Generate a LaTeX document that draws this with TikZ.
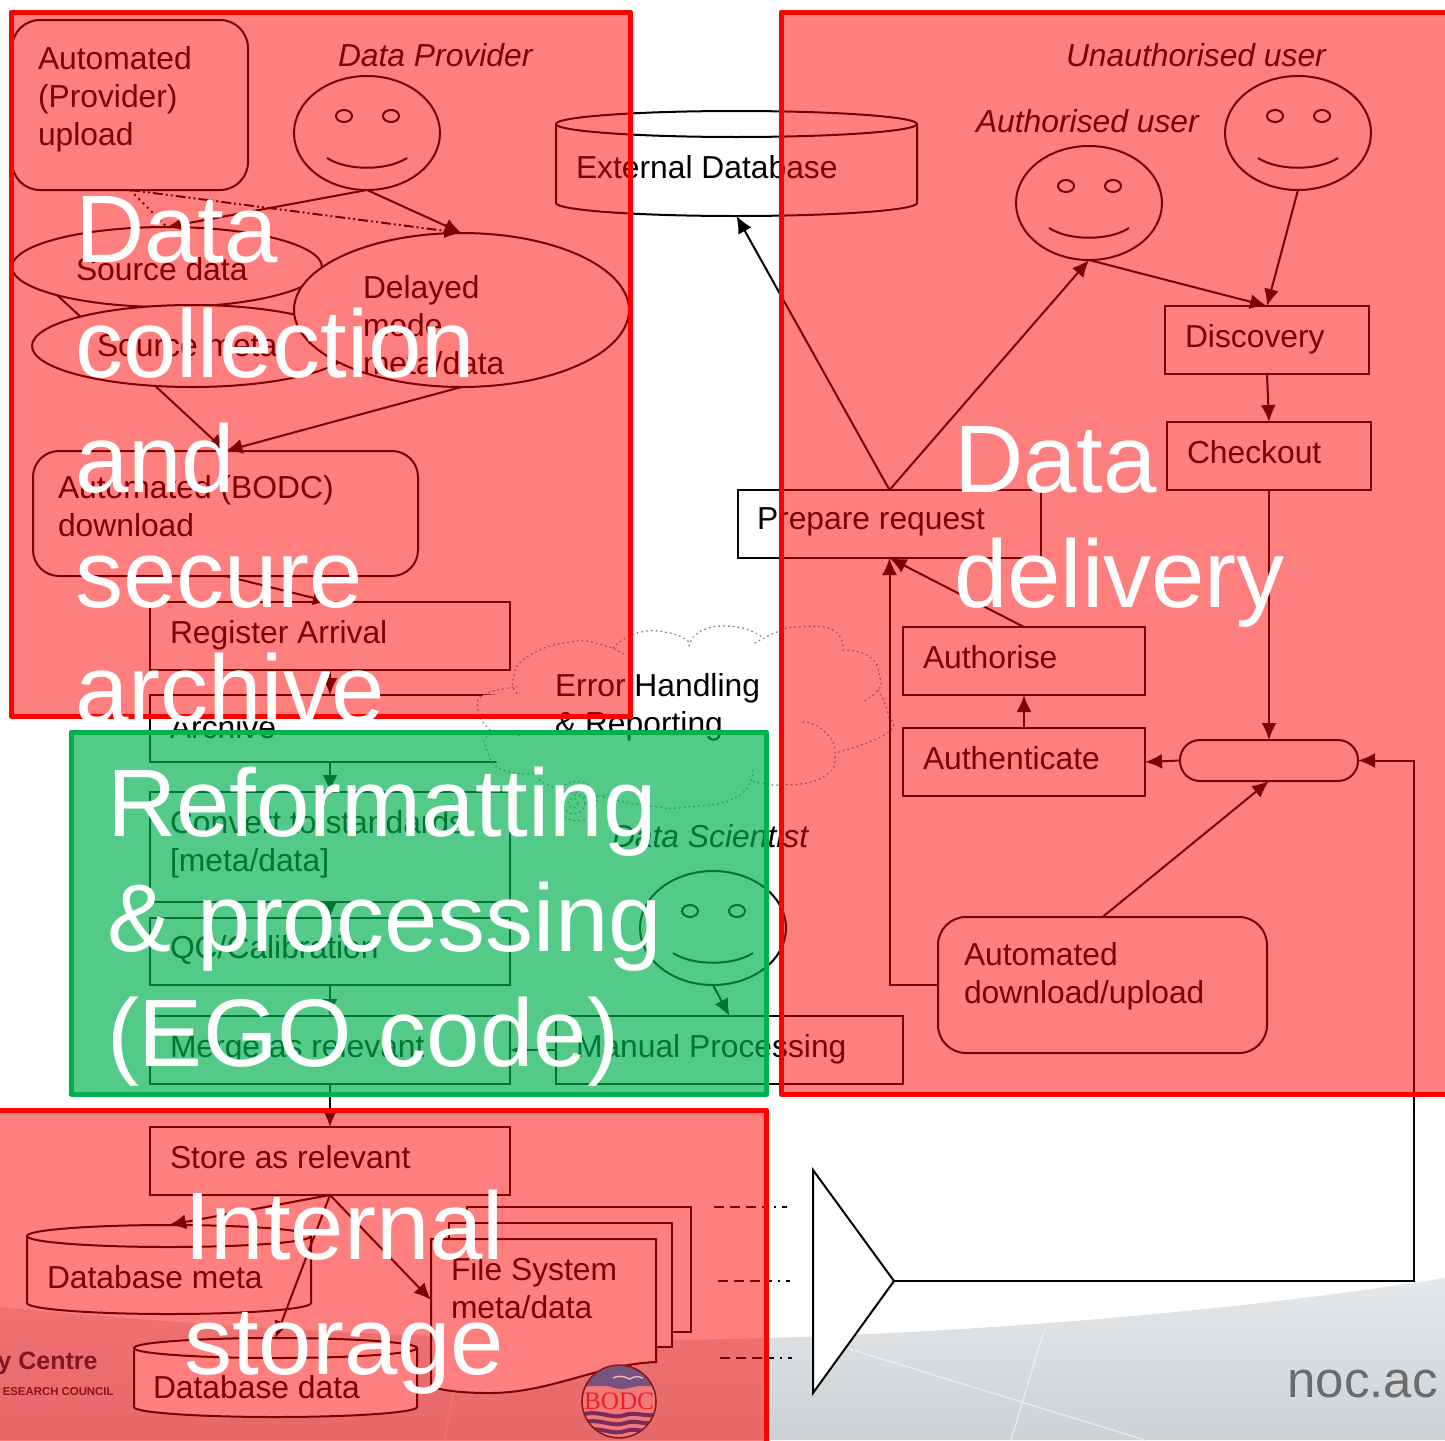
\documentclass[tikz,border=0pt]{standalone}
\usepackage{fontspec}
\setmainfont{Liberation Sans}
\newfontfamily\serifbodc{Liberation Serif}
\usetikzlibrary{arrows.meta,shapes.geometric,calc}
\definecolor{ovred}{HTML}{FF0000}
\definecolor{ovgreen}{HTML}{00B050}
\definecolor{cloudgrey}{HTML}{808080}
\definecolor{logopurple}{HTML}{75547F}
\definecolor{logowave}{HTML}{7B2A5A}
\definecolor{logotext}{HTML}{E8202A}
\definecolor{logoring}{HTML}{8B1A1A}
\definecolor{nocnavy}{HTML}{0F2A45}
\tikzset{
  shapeline/.style={draw=black,line width=1pt,fill=white},
  rectbox/.style={shapeline,rectangle,inner sep=0pt,outer sep=0pt},
  roundbox/.style={rectbox,rounded corners=14pt},
  pillbox/.style={rectbox,rounded corners=10pt},
  ellbox/.style={shapeline,ellipse,inner sep=0pt,outer sep=0pt},
  conn/.style={draw=black,line width=1pt,-{Latex[length=8.5pt,width=7.5pt]}},
  plainline/.style={draw=black,line width=1pt},
  txt/.style={anchor=north west,inner sep=0pt,outer sep=0pt,align=left,text=black,font=\fontsize{15.9}{19}\selectfont},
  itxt/.style={txt,font=\fontsize{15.9}{19}\selectfont\itshape},
  bigtxt/.style={anchor=north west,inner sep=0pt,outer sep=0pt,align=left,text=white,font=\fontsize{48}{57.5}\selectfont},
  cloudline/.style={draw=cloudgrey,line width=0.7pt,dash pattern=on 0.4pt off 2pt,line cap=round},
  redpanel/.style={draw=ovred,line width=2.5pt,line join=round,fill=ovred,fill opacity=0.5},
  greenpanel/.style={draw=ovgreen,line width=2.5pt,line join=round,fill=ovgreen,fill opacity=0.67},
  tracedash/.style={draw=black,line width=0.6pt,dash pattern=on 5pt off 3pt on 5pt off 3pt on 5pt off 3pt on 3pt off 3pt on 1pt off 3pt}
}
\newcommand\boxn[6]{%
  \pgfmathsetmacro\bw{(#4-#2)*0.5}\pgfmathsetmacro\bh{(#5-#3)*0.5}%
  \node[#6,minimum width=\bw pt,minimum height=\bh pt] (#1) at ({(#2+#4)/2},{(#3+#5)/2}) {};}
\newcommand\smileyn[3]{%
  \node[ellbox,minimum width=73pt,minimum height=57pt] (#1) at (#2,#3) {};
  \draw[shapeline,fill=none] ({#2-23},{#3-17}) ellipse [x radius=4pt,y radius=3pt];
  \draw[shapeline,fill=none] ({#2+24},{#3-17}) ellipse [x radius=4pt,y radius=3pt];
  \draw[plainline] ({#2-40},{#3+25}) .. controls ({#2-20},{#3+38}) and ({#2+20},{#3+38}) .. ({#2+40},{#3+25});}
\newcommand\dbn[6]{%
  \pgfmathsetmacro\rxx{(#4-#2)/4}\pgfmathsetmacro\ryy{#6/2}%
  \draw[shapeline] (#2,{#3+#6}) arc[start angle=180,end angle=0,x radius=\rxx pt,y radius=\ryy pt]
     -- (#4,{#5-#6}) arc[start angle=0,end angle=-180,x radius=\rxx pt,y radius=\ryy pt] -- cycle;
  \draw[plainline] (#2,{#3+#6}) arc[start angle=180,end angle=360,x radius=\rxx pt,y radius=\ryy pt];
  \coordinate (#1-n) at ({(#2+#4)/2},#3);
  \coordinate (#1-s) at ({(#2+#4)/2},#5);}
\begin{document}
\begin{tikzpicture}[x=0.5pt,y=-0.5pt]
\useasboundingbox (0,0) rectangle (1445,1440);
\begin{scope}
\clip (0,0) rectangle (1445,1440);
\fill[white] (0,0) rectangle (1445,1440);
% background band
\shade[top color={rgb,255:red,229;green,232;blue,234},bottom color={rgb,255:red,205;green,209;blue,212}]
  (0,1307) .. controls (200,1326) and (400,1338) .. (600,1340)
  .. controls (800,1342) and (1150,1325) .. (1445,1278) -- (1445,1440) -- (0,1440) -- cycle;
\draw[white!85!gray,line width=0.6pt] (814,1338) -- (1145,1440);
\draw[white!85!gray,line width=0.6pt] (1045,1327) -- (1011,1440);
\draw[white!85!gray,line width=0.6pt] (454,1390) -- (444,1440);
\node[anchor=east,inner sep=0pt,text=nocnavy,font=\fontsize{12.5}{15}\selectfont\bfseries] (centreword) at (98,1363) {y Centre};
\node[anchor=east,inner sep=0pt,text=nocnavy,font=\fontsize{5.7}{7}\selectfont\bfseries] (councilword) at (114,1392) {ESEARCH COUNCIL};
\node[anchor=west,inner sep=0pt,text=black!58,font=\fontsize{25.5}{30}\selectfont] (nocword) at (1287,1384) {noc.ac};

% left column boxes
\boxn{upload}{12}{20}{248}{190}{roundbox}
\node[txt] (uploadtxt) at (38,46) {Automated\\(Provider)\\upload};
\node[itxt] (providertxt) at (338,43) {Data Provider};
\smileyn{provider}{367}{133}
\node[ellbox,minimum width=155pt,minimum height=40pt] (srcdata) at (167,267) {};
\node[txt] (srcdatatxt) at (76,257) {Source data};
\coordinate (srcsw) at (57,295);
\boxn{bodc}{33}{451}{418}{576}{pillbox,rounded corners=13pt}
\node[txt] (bodctxt) at (58,475) {Automated (BODC)\\download};
\draw[conn] (srcsw) -- (bodc.north);
\node[ellbox,minimum width=160pt,minimum height=41pt] (srcmeta) at (192,346) {};
\node[txt] (srcmetatxt) at (97,334) {Source meta};
\node[ellbox,minimum width=167.5pt,minimum height=77pt] (delayed) at (461.5,310) {};
\node[txt] (delayedtxt) at (363,275) {Delayed\\mode\\meta/data};
\draw[plainline,dash pattern=on 1pt off 2pt] (upload.south) -- (srcdata.north);
\draw[conn,dash pattern=on 5pt off 1.5pt on 1pt off 1.5pt on 1pt off 1.5pt] (upload.south) -- (delayed.north);
\draw[conn] (provider.south) -- (srcdata.north);
\draw[conn] (provider.south) -- (delayed.north);
\draw[conn] (delayed.south) -- (bodc.north);
\boxn{register}{150}{602}{510}{670}{rectbox}
\node[txt] (registertxt) at (170,620) {Register Arrival};
\draw[conn] (bodc.south) -- (register.north);
\boxn{archive}{150}{695}{510}{762}{rectbox}
\node[txt] (archivetxt) at (170,715) {Archive};
\draw[conn] (register.south) -- (archive.north);
\boxn{convert}{150}{792}{510}{902}{rectbox}
\node[txt] (converttxt) at (170,810) {Convert to standards\\{[meta/data]}};
\draw[conn] (archive.south) -- (convert.north);
\boxn{qc}{150}{918}{510}{985}{rectbox}
\node[txt] (qctxt) at (170,935) {QC/Calibration};
\draw[conn] (convert.south) -- (qc.north);
\boxn{merge}{150}{1016}{510}{1084}{rectbox}
\node[txt] (mergetxt) at (170,1034) {Merge as relevant};
\draw[conn] (qc.south) -- (merge.north);

% cloud
\fill[white] (517,693) -- (483,695) -- (478,710) -- (490,730) -- (487,750) -- (503,770) -- (543,773) -- (553,787) -- (603,797) -- (650,800) -- (687,807) -- (737,797) -- (753,770) -- (780,785) -- (823,777) -- (835,753) -- (887,733) -- (888,713) -- (878,690) -- (880,678) -- (870,657) -- (843,650) -- (833,630) -- (797,627) -- (755,643) -- (737,627) -- (703,630) -- (690,640) -- (670,633) -- (637,633) -- (613,648) -- (570,642) -- (527,657) -- (513,680) -- cycle;
\draw[cloudline] plot[smooth,tension=0.9] coordinates {(517,693) (513,680) (527,657) (570,642) (603,645) (625,655)};
\draw[cloudline] plot[smooth,tension=0.9] coordinates {(613,648) (637,633) (670,633) (690,643)};
\draw[cloudline] plot[smooth,tension=0.9] coordinates {(689,646) (703,630) (737,627) (762,637)};
\draw[cloudline] plot[smooth,tension=0.9] coordinates {(755,643) (777,632) (797,627) (833,630) (843,650)};
\draw[cloudline] plot[smooth,tension=0.9] coordinates {(843,650) (870,657) (880,678) (878,690) (863,702)};
\draw[cloudline] plot[smooth,tension=0.9] coordinates {(878,690) (888,713) (887,733) (835,753)};
\draw[cloudline] plot[smooth,tension=0.9] coordinates {(803,722) (823,730) (835,753) (823,777) (780,785) (750,780)};
\draw[cloudline] plot[smooth,tension=0.9] coordinates {(753,770) (737,797) (687,807) (650,806) (603,797)};
\draw[cloudline] plot[smooth,tension=0.9] coordinates {(617,790) (590,797) (553,787) (537,777)};
\draw[cloudline] plot[smooth,tension=0.9] coordinates {(543,773) (503,770) (487,750) (490,735) (523,736)};
\draw[cloudline] plot[smooth,tension=0.9] coordinates {(490,730) (480,718) (478,710) (483,695) (517,687)};
\draw[cloudline] (577,801) circle [radius=10pt];
\draw[cloudline] (574,803) circle [radius=5.5pt];
\draw[cloudline] (573,803) circle [radius=2.5pt];
\node[txt] (errtxt) at (555,673) {Error Handling\\\& Reporting};

\boxn{manual}{556}{1016}{903}{1084}{rectbox}
\node[txt] (manualtxt) at (576,1034) {Manual Processing};
\draw[conn] (manual.west) -- (merge.east);
\node[itxt] (scientisttxt) at (612,824) {Data Scientist};
\smileyn{scientist}{713}{928}
\draw[conn] (scientist.south) -- (manual.north);
\boxn{store}{150}{1127}{510}{1195}{rectbox}
\node[txt] (storetxt) at (170,1145) {Store as relevant};
\draw[conn] (merge.south) -- (store.north);

% storage shapes
\dbn{dbmeta}{27}{1225}{311}{1314}{11}
\node[txt] (dbmetatxt) at (47,1265) {Database meta};
\dbn{dbdata}{134}{1338}{417}{1417}{10}
\node[txt] (dbdatatxt) at (153,1375) {Database data};
\draw[shapeline] (467,1207) rectangle (691,1332);
\draw[shapeline] (449,1223) rectangle (672,1347);
\draw[shapeline] (431,1239) -- (656,1239) -- (656,1362) .. controls (600,1364) and (550,1393) .. (490,1393) .. controls (470,1393) and (450,1392) .. (431,1387) -- cycle;
\coordinate (filew) at (431,1300);
\node[txt] (filetxt) at (451,1257) {File System\\meta/data};
\draw[conn] (store.south) -- (dbmeta-n);
\draw[conn] (store.south) -- (dbdata-n);
\draw[conn] (store.south) -- (filew);

% collector
\coordinate (dashaa) at (714,1207); \coordinate (dashab) at (787,1207);
\coordinate (dashba) at (718,1281); \coordinate (dashbb) at (790,1281);
\coordinate (dashca) at (720,1358); \coordinate (dashcb) at (792,1358);
\draw[tracedash] (dashaa) -- (dashab);
\draw[tracedash] (dashba) -- (dashbb);
\draw[tracedash] (dashca) -- (dashcb);
\coordinate (tritop) at (813,1170); \coordinate (tribot) at (813,1393); \coordinate (triapex) at (894,1281);
\draw[shapeline,line join=miter] (tritop) -- (triapex) -- (tribot) -- cycle;

% right side
\dbn{extdb}{556}{111}{917}{216}{13}
\node[txt] (extdbtxt) at (576,155) {External Database};
\boxn{prepare}{738}{490}{1041}{558}{rectbox}
\node[txt] (preparetxt) at (757,508) {Prepare request};
\draw[conn] (prepare.north) -- (extdb-s);
\node[itxt] (unauthtxt) at (1066,43) {Unauthorised user};
\smileyn{unauth}{1298}{133}
\node[itxt] (authtxt) at (976,109) {Authorised user};
\smileyn{auth}{1089}{203}
\draw[conn] (prepare.north) -- (auth.south);
\boxn{discovery}{1165}{306}{1369}{374}{rectbox}
\node[txt] (discoverytxt) at (1185,324) {Discovery};
\draw[conn] (unauth.south) -- (discovery.north);
\draw[conn] (auth.south) -- (discovery.north);
\boxn{checkout}{1167}{422}{1371}{490}{rectbox}
\node[txt] (checkouttxt) at (1187,440) {Checkout};
\draw[conn] (discovery.south) -- (checkout.north);
\boxn{pill}{1180}{740}{1358}{781}{pillbox}
\draw[conn] (checkout.south) -- (pill.north);
\boxn{authenticate}{903}{728}{1145}{796}{rectbox}
\node[txt] (authenticatetxt) at (923,746) {Authenticate};
\boxn{authorise}{903}{627}{1145}{695}{rectbox}
\node[txt] (authorisetxt) at (923,645) {Authorise};
\draw[conn] (pill.west) -- (authenticate.east);
\draw[conn] (authenticate.north) -- (authorise.south);
\draw[conn] (authorise.north) -- (prepare.south);
\boxn{autodl}{938}{917}{1267}{1053}{roundbox}
\node[txt] (autodltxt) at (964,942) {Automated\\download/upload};
\draw[conn] (autodl.north) -- (pill.south);
\draw[conn] (autodl.west) -| (prepare.south);
\draw[conn] (triapex) -- (1414,1281) |- (pill.east);

% overlays
\draw[redpanel] (11,12) rectangle (630,716);
\draw[redpanel] (781,12) rectangle (1460,1094);
\draw[redpanel] (-10,1110) rectangle (766.5,1460);
\draw[greenpanel] (71,732) rectangle (766.5,1094);

% BODC logo
\begin{scope}
\clip (619,1401.5) ellipse [x radius=18.5pt,y radius=18.2pt];
\fill[ovred!50!white!95!black] (570,1360) rectangle (670,1445);
\fill[logopurple] (570,1360) rectangle (670,1386) (570,1386) -- (586,1387) .. controls (600,1380) and (610,1388) .. (620,1389) .. controls (630,1390) and (640,1382) .. (655,1387) -- (670,1386) -- (670,1360) -- cycle;
\draw[white!70!red,line width=0.7pt] (613,1378) .. controls (622,1374) and (626,1378) .. (630,1379) .. controls (634,1376) and (638,1376) .. (643,1378);
\foreach \wy/\wname in {1415/a,1423/b,1431/c}{
  \draw[logowave,line width=2pt] (580,\wy) .. controls (600,{\wy-6}) and (612,{\wy+5}) .. (625,\wy) .. controls (635,{\wy-4}) and (645,{\wy+3}) .. (660,{\wy-1});
}
\end{scope}
\draw[logoring,line width=0.8pt] (619,1401.5) ellipse [x radius=18.5pt,y radius=18.2pt];
\node[inner sep=0pt,text=logotext,font=\serifbodc\fontsize{12.6}{14}\selectfont] (bodclogo) at (619,1401) {BODC};

% big labels
\node[bigtxt] (capcollect) at (75,196) {Data\\collection\\and\\secure\\archive};
\node[bigtxt] (capdelivery) at (954,426) {Data\\delivery};
\node[bigtxt] (capreformat) at (107,767) {Reformatting\\\& processing\\(EGO code)};
\node[bigtxt] (capstorage) at (184,1190) {Internal\\storage};
\end{scope}
\end{tikzpicture}
\end{document}
